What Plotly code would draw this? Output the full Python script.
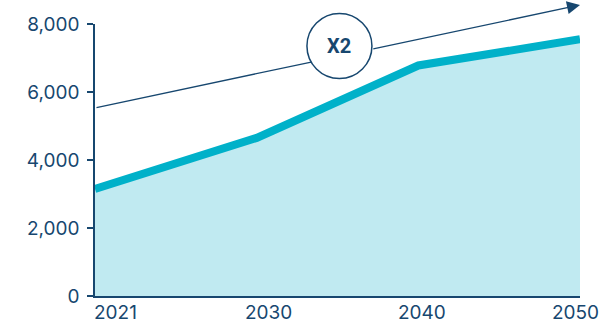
import math
import plotly.graph_objects as go

# Data
years = ["2021", "2030", "2040", "2050"]
values = [3150, 4650, 6780, 7550]
trend_start = 5530
trend_end = 8560
y_ticks = [0, 2000, 4000, 6000, 8000]
y_tick_labels = ["0", "2,000", "4,000", "6,000", "8,000"]
badge_text = "X2"

NAVY = "#17476f"
TEAL = "#00b1c9"
FILL = "#c0eaf1"
FONT = "Inter"

W, H = 610, 324
M = dict(l=95, r=30, t=24, b=28)
Y_MAX = 8000

x_idx = list(range(len(years)))
x_max = x_idx[-1]

fig = go.Figure()

fig.add_trace(go.Scatter(
    x=x_idx, y=values,
    mode="lines",
    line=dict(color=TEAL, width=8),
    fill="tozeroy",
    fillcolor=FILL,
    hoverinfo="skip",
))

# Badge position (data units) and radius (pixels)
bx, by, r_px = 1.512, 7353, 32.5

# Split the trend arrow where it meets the badge so the badge stays clear
sx = (W - M["l"] - M["r"]) / x_max
sy = (H - M["t"] - M["b"]) / Y_MAX
p0 = (0.0, trend_start * sy)
d = (x_max * sx, (trend_end - trend_start) * sy)
c = (bx * sx, by * sy)
f = (p0[0] - c[0], p0[1] - c[1])
qa = d[0] ** 2 + d[1] ** 2
qb = 2 * (f[0] * d[0] + f[1] * d[1])
qc = f[0] ** 2 + f[1] ** 2 - r_px ** 2
disc = math.sqrt(qb * qb - 4 * qa * qc)
t1 = (-qb - disc) / (2 * qa)
t2 = (-qb + disc) / (2 * qa)


def on_trend(t):
    return t * x_max, trend_start + t * (trend_end - trend_start)


seg_a = on_trend(t1)
seg_b = on_trend(t2)

fig.add_annotation(
    x=seg_a[0], y=seg_a[1], ax=0, ay=trend_start,
    xref="x", yref="y", axref="x", ayref="y",
    showarrow=True, arrowhead=0, arrowwidth=1.3,
    arrowcolor=NAVY, text="",
)
fig.add_annotation(
    x=x_max, y=trend_end, ax=seg_b[0], ay=seg_b[1],
    xref="x", yref="y", axref="x", ayref="y",
    showarrow=True, arrowhead=2, arrowsize=2, arrowwidth=1.3,
    arrowcolor=NAVY, text="",
)

# Badge circle (paper y so it is not cut at the top of the plot area)
fig.add_shape(
    type="circle", xref="x", yref="paper",
    xsizemode="pixel", ysizemode="pixel",
    xanchor=bx, yanchor=by / Y_MAX,
    x0=-r_px, x1=r_px, y0=-r_px, y1=r_px,
    line=dict(color=NAVY, width=1.5),
    fillcolor="white", layer="above",
)
fig.add_annotation(
    x=bx, y=by, xref="x", yref="y", text=badge_text,
    showarrow=False,
    font=dict(family="Roboto", size=20, color=NAVY, weight=700),
)

# Year labels below the axis
shifts = [(0, "left", -3), (1, "center", 12), (2, "center", 4), (3, "center", -5)]
for (i, anchor, dx), label in zip(shifts, years):
    fig.add_annotation(
        x=x_idx[i], y=0, xref="x", yref="y", text=label,
        showarrow=False, xanchor=anchor, yanchor="top",
        xshift=dx, yshift=-3,
        font=dict(family=FONT, size=19, color=NAVY),
    )

fig.update_layout(
    width=W, height=H,
    margin=M,
    paper_bgcolor="white", plot_bgcolor="white",
    showlegend=False,
    font=dict(family=FONT, color=NAVY),
    xaxis=dict(
        range=[0, x_max], showgrid=False, zeroline=False,
        showticklabels=False, ticks="",
        showline=True, linecolor=NAVY, linewidth=1.5,
    ),
    yaxis=dict(
        range=[0, Y_MAX], showgrid=False, zeroline=False,
        tickvals=y_ticks, ticktext=y_tick_labels,
        ticks="outside", ticklen=6, tickcolor=NAVY, tickwidth=1.5,
        showline=True, linecolor=NAVY, linewidth=1.5,
        tickfont=dict(family=FONT, size=19, color=NAVY),
        ticklabelstandoff=4,
    ),
)

fig.write_html("out.html")
